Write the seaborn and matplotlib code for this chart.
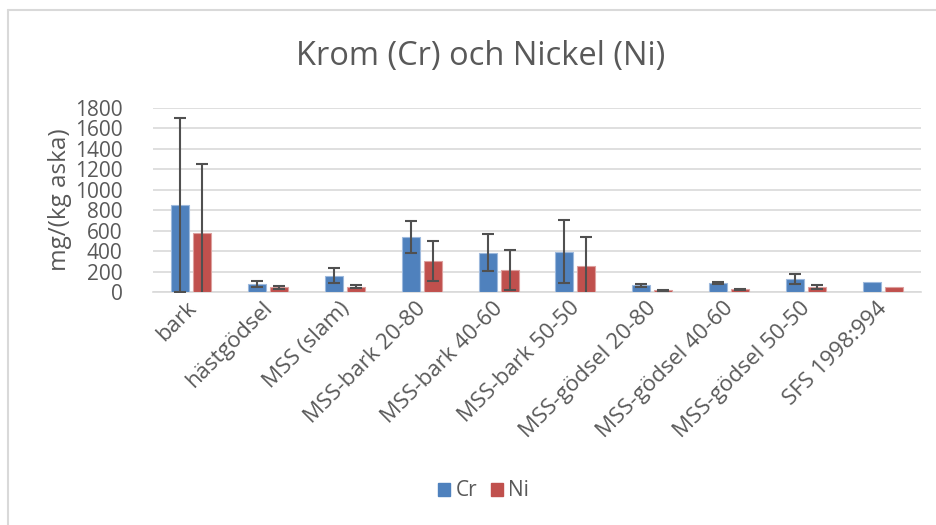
import matplotlib
matplotlib.use("Agg")
import matplotlib.pyplot as plt
import matplotlib.transforms as mtransforms
from matplotlib.lines import Line2D
from matplotlib.patches import Patch
import seaborn as sns
import pandas as pd
import numpy as np

categories = ["bark", "hästgödsel", "MSS (slam)", "MSS-bark 20-80", "MSS-bark 40-60",
              "MSS-bark 50-50", "MSS-gödsel 20-80", "MSS-gödsel 40-60", "MSS-gödsel 50-50",
              "SFS 1998:994"]
cr_values = [850, 75, 160, 540, 385, 395, 65, 90, 125, 100]
cr_errors = [850, 28, 70, 157, 180, 306, 12, 9, 50, 0]
ni_values = [575, 46, 50, 300, 212, 250, 17, 25, 50, 50]
ni_errors = [680, 13, 15, 197, 195, 288, 5, 6, 22, 0]
series = ["Cr", "Ni"]
yticks = [0, 200, 400, 600, 800, 1000, 1200, 1400, 1600, 1800]

title = "Krom (Cr) och Nickel (Ni)"
ylabel = "mg/(kg aska)"

sns.set_theme(style="white")
plt.rcParams["font.family"] = ["Open Sans", "DejaVu Sans"]

text_color = "#595959"
colors = {"Cr": "#4F81BD", "Ni": "#C0504D"}
edge_colors = {"Cr": "#9DB9DD", "Ni": "#DDA09E"}

df = pd.DataFrame({
    "kategori": categories * 2,
    "serie": ["Cr"] * len(categories) + ["Ni"] * len(categories),
    "varde": cr_values + ni_values,
    "fel": cr_errors + ni_errors,
})

fig = plt.figure(figsize=(9.37, 5.25), dpi=100)
ax = fig.add_axes([153 / 937, 1 - 292 / 525, (921 - 153) / 937, (292 - 108) / 525])

sns.barplot(data=df, x="kategori", y="varde", hue="serie", order=categories,
            hue_order=series, palette=colors, width=0.57, gap=0.18, saturation=1,
            errorbar=None, ax=ax, legend=False, linewidth=0.8, zorder=3)

# edge colours and error bars
for container, s in zip(ax.containers, series):
    sub = df[df["serie"] == s].set_index("kategori").loc[categories]
    xs = []
    for patch in container.patches:
        patch.set_edgecolor(edge_colors[s])
        xs.append(patch.get_x() + patch.get_width() / 2)
    xs = np.array(xs)
    vals = sub["varde"].to_numpy()
    errs = sub["fel"].to_numpy()
    mask = errs > 0
    ax.errorbar(xs[mask], vals[mask], yerr=errs[mask], fmt="none",
                ecolor="#505050", elinewidth=1.5, capsize=4.5, capthick=1.5, zorder=4)

ax.set_ylim(0, 1800)
ax.set_yticks(yticks)
ax.set_yticklabels([str(t) for t in yticks])
ax.yaxis.grid(True, color="#D9D9D9", linewidth=1.2, zorder=0)
ax.set_axisbelow(True)
for sp in ["top", "right", "left"]:
    ax.spines[sp].set_visible(False)
ax.spines["bottom"].set_color("#D9D9D9")
ax.spines["bottom"].set_linewidth(1.2)

ax.tick_params(axis="y", length=0, pad=22, labelsize=15, labelcolor=text_color)
ax.tick_params(axis="x", length=0, pad=4, labelsize=16, labelcolor=text_color)
ax.set_xlim(-0.5, len(categories) - 0.5)
shift = mtransforms.ScaledTranslation(-6 / 100, 0, fig.dpi_scale_trans)
for lbl in ax.get_xticklabels():
    lbl.set_rotation(45)
    lbl.set_ha("right")
    lbl.set_va("top")
    lbl.set_rotation_mode("anchor")
    lbl.set_transform(lbl.get_transform() + shift)

ax.set_xlabel("")
ax.set_ylabel(ylabel, fontsize=17.5, color=text_color, labelpad=2)

fig.text(0.5125, 1 - 56 / 525, title, ha="center", va="center", fontsize=23.5, color=text_color)

handles = [Patch(facecolor=colors[s], edgecolor=colors[s]) for s in series]
fig.legend(handles, series, loc="center", bbox_to_anchor=(0.516, 1 - 491 / 525), ncol=2,
           frameon=False, fontsize=15, handlelength=0.6, handleheight=0.6,
           handletextpad=0.25, columnspacing=0.65, labelcolor=text_color)

# chart area border (top and left visible)
fig.add_artist(Line2D([8 / 937, 1.0], [1 - 10 / 525, 1 - 10 / 525], transform=fig.transFigure,
                      color="#D9D9D9", linewidth=1.5))
fig.add_artist(Line2D([8 / 937, 8 / 937], [0, 1 - 10 / 525], transform=fig.transFigure,
                      color="#D9D9D9", linewidth=1.5))

fig.savefig("out.png", dpi=100, facecolor="white")
